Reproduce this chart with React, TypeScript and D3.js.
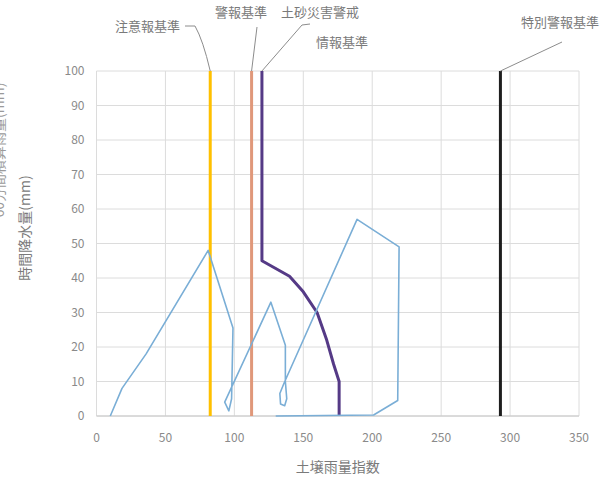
import React from "react";
import * as d3 from "d3";

const W = 615;
const H = 483;

const xTicks = [0, 50, 100, 150, 200, 250, 300, 350];
const yTicks = [0, 10, 20, 30, 40, 50, 60, 70, 80, 90, 100];

// 基準線 (土壌雨量指数)
const chuihoX = 82.5; // 注意報基準
const keihoX = 112.5; // 警報基準
const tokubetsuX = 293; // 特別警報基準

// 土砂災害警戒情報基準 (CL)
const clX = [120, 120, 140, 150, 160, 167, 172, 176, 176];
const clY = [100, 45, 40.5, 36, 30, 22, 15, 10, 0];

// スネーク曲線
const snakeX = [10, 18.5, 36, 81, 99, 98, 96, 93, 126.5, 137, 137, 138, 136.5, 133.5, 133, 136, 189, 219.5, 218.5, 201, 130];
const snakeY = [0, 8, 18, 48, 25.5, 5, 1.5, 4, 33, 20.5, 10, 5, 3, 3.5, 6.5, 9.5, 57, 49, 4.5, 0.3, 0];

const left = 96.5;
const right = 579;
const top = 71;
const bottom = 416;

export default function App() {
  const x = d3.scaleLinear().domain([0, 350]).range([left, right]);
  const y = d3.scaleLinear().domain([0, 100]).range([bottom, top]);
  const line = d3.line<[number, number]>().x((d) => x(d[0])).y((d) => y(d[1]));
  const snake = line(snakeX.map((v, i) => [v, snakeY[i]]));
  const cl = line(clX.map((v, i) => [v, clY[i]]));
  const font = "'Noto Sans CJK JP', 'Noto Sans', sans-serif";
  const tickColor = "#8a8a8a";
  const labelColor = "#7a7a7a";
  const leader = "#8c8c8c";

  return (
    <svg
      width={W}
      height={H}
      style={{ position: "absolute", left: 0, top: 0, background: "#fff" }}
      fontFamily={font}
    >
      <rect x={0} y={0} width={W} height={H} fill="#fff" />
      {/* grid */}
      {yTicks.map((t) => (
        <line key={"gy" + t} x1={left} x2={right} y1={y(t)} y2={y(t)} stroke="#dcdcdc" strokeWidth={1} />
      ))}
      {xTicks.map((t) => (
        <line key={"gx" + t} x1={x(t)} x2={x(t)} y1={top} y2={bottom} stroke="#dcdcdc" strokeWidth={1} />
      ))}
      <line x1={left} x2={right} y1={bottom} y2={bottom} stroke="#c8c8c8" strokeWidth={1} />

      {/* tick labels */}
      {yTicks.map((t) => (
        <text key={"ty" + t} x={left - 12} y={y(t)} dy="0.35em" textAnchor="end" fontSize={12} fill={tickColor}>
          {t}
        </text>
      ))}
      {xTicks.map((t) => (
        <text key={"tx" + t} x={x(t)} y={bottom + 26} textAnchor="middle" fontSize={12} fill={tickColor}>
          {t}
        </text>
      ))}

      {/* axis titles */}
      <text x={(left + right) / 2} y={472} textAnchor="middle" fontSize={14} fill={labelColor}>
        土壌雨量指数
      </text>
      <text transform={`translate(30,228) rotate(-90)`} textAnchor="middle" fontSize={14} fill={labelColor}>
        時間降水量(mm)
      </text>
      <text transform={`translate(4,150) rotate(-90)`} textAnchor="middle" fontSize={14} fill="#9a9a9a">
        60分間積算雨量(mm)
      </text>

      {/* reference lines */}
      <line x1={x(chuihoX)} x2={x(chuihoX)} y1={y(0)} y2={y(100)} stroke="#ffc000" strokeWidth={3} />
      <line x1={x(keihoX)} x2={x(keihoX)} y1={y(0)} y2={y(100)} stroke="#e0987a" strokeWidth={3} />
      <line x1={x(tokubetsuX)} x2={x(tokubetsuX)} y1={y(0)} y2={y(100)} stroke="#1e1e1e" strokeWidth={3} />
      <path d={cl ?? ""} fill="none" stroke="#553a86" strokeWidth={3} strokeLinejoin="round" />

      {/* snake line */}
      <path d={snake ?? ""} fill="none" stroke="#7aaed6" strokeWidth={1.6} strokeLinejoin="round" />

      {/* callouts */}
      <path
        d={`M185,26 L195,26 Q203,40 ${x(chuihoX)},${y(100)}`}
        fill="none"
        stroke={leader}
        strokeWidth={1}
      />
      <text x={180} y={26} dy="0.35em" textAnchor="end" fontSize={13} fill={labelColor}>
        注意報基準
      </text>
      <path d={`M257,27 L${x(keihoX)},${y(100)}`} fill="none" stroke={leader} strokeWidth={1} />
      <text x={241} y={12} dy="0.35em" textAnchor="middle" fontSize={13} fill={labelColor}>
        警報基準
      </text>
      <path d={`M310,24 L302,25 L${x(clX[0])},${y(100)}`} fill="none" stroke={leader} strokeWidth={1} />
      <text x={320} y={12} dy="0.35em" textAnchor="middle" fontSize={13} fill={labelColor}>
        土砂災害警戒
      </text>
      <text x={342} y={42} dy="0.35em" textAnchor="middle" fontSize={13} fill={labelColor}>
        情報基準
      </text>
      <path d={`M562,42 L${x(tokubetsuX)},${y(100)}`} fill="none" stroke={leader} strokeWidth={1} />
      <text x={560} y={22} dy="0.35em" textAnchor="middle" fontSize={13} fill={labelColor}>
        特別警報基準
      </text>
    </svg>
  );
}
